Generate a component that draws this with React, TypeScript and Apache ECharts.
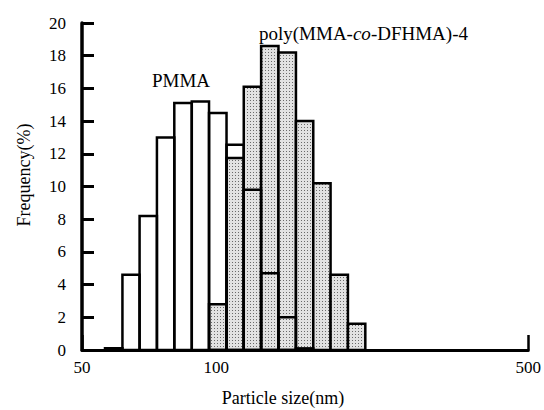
import React, { useEffect, useRef } from "react";
import * as echarts from "echarts";

// Bin edges (nm), log-spaced
const binLow = [56.3, 61.6, 67.3, 73.6, 80.5, 88.1, 96.3, 105.4, 115.2, 126.0, 137.8, 150.8, 164.9, 180.3, 197.2];
const binHigh = [61.6, 67.3, 73.6, 80.5, 88.1, 96.3, 105.4, 115.2, 126.0, 137.8, 150.8, 164.9, 180.3, 197.2, 215.7];

// Frequency (%) per bin
const pmma = [0.1, 4.6, 8.2, 13.0, 15.1, 15.2, 14.5, 12.55, 9.8, 4.7, 2.0, 0.1, 0, 0, 0];
const dfhma = [0, 0, 0, 0, 0, 0, 2.8, 11.75, 16.1, 18.6, 18.2, 14.0, 10.2, 4.6, 1.6];

const yTicks = { min: 0, max: 20, interval: 2 };
const xRange = { min: 50, max: 500 };

const FONT = "Liberation Serif";

function makeData(vals: number[]) {
  return vals
    .map((v, i) => [binLow[i], binHigh[i], v])
    .filter((d) => d[2] > 0);
}

export default function App() {
  const ref = useRef<HTMLDivElement>(null);
  useEffect(() => {
    if (!ref.current) return;
    const chart = echarts.init(ref.current, null, { renderer: "svg" });

    const cv = document.createElement("canvas");
    cv.width = 3;
    cv.height = 3;
    const ctx = cv.getContext("2d")!;
    ctx.fillStyle = "#e2e2e2";
    ctx.fillRect(0, 0, 3, 3);
    ctx.fillStyle = "#6a6a6a";
    ctx.fillRect(1, 1, 1, 1);
    const dotted: any = { image: cv, repeat: "repeat" };

    const render = (fill: any) => (params: any, api: any) => {
      const lo = api.value(0);
      const hi = api.value(1);
      const v = api.value(2);
      const p1 = api.coord([lo, v]);
      const p2 = api.coord([hi, 0]);
      return {
        type: "rect",
        shape: { x: p1[0], y: p1[1], width: p2[0] - p1[0], height: p2[1] - p1[1] },
        style: { fill, stroke: "#000", lineWidth: 2.5 },
      };
    };

    const txt = (text: string, x: number, y: number, size: number, extra: any = {}) => ({
      type: "text",
      x,
      y,
      ...extra,
      style: {
        text,
        fontFamily: FONT,
        fontSize: size,
        fill: "#000",
        align: "center",
        verticalAlign: "middle",
        ...(extra.style || {}),
      },
    });

    chart.setOption({
      animation: false,
      backgroundColor: "#fff",
      textStyle: { fontFamily: FONT },
      grid: { left: 82, right: 15, top: 23, bottom: 60 },
      xAxis: {
        type: "log",
        logBase: 10,
        min: xRange.min,
        max: xRange.max,
        axisLine: { lineStyle: { color: "#000", width: 3 } },
        axisTick: { show: true, inside: true, length: 15, lineStyle: { color: "#000", width: 2.5 } },
        minorTick: { show: false },
        splitLine: { show: false },
        axisLabel: {
          color: "#000",
          fontFamily: FONT,
          fontSize: 17,
          margin: 9,
          formatter: (v: number) => String(Math.round(v)),
        },
      },
      yAxis: {
        type: "value",
        min: yTicks.min,
        max: yTicks.max,
        interval: yTicks.interval,
        axisLine: { show: true, lineStyle: { color: "#000", width: 3.5 } },
        axisTick: { show: true, inside: true, length: 12, lineStyle: { color: "#000", width: 3 } },
        splitLine: { show: false },
        axisLabel: { color: "#000", fontFamily: FONT, fontSize: 17, margin: 16 },
      },
      graphic: [
        txt("Particle size(nm)", 283, 398, 18),
        txt("Frequency(%)", 24, 175, 18, { rotation: Math.PI / 2 }),
        txt("PMMA", 181, 80, 19),
        {
          type: "text",
          x: 259,
          y: 33,
          style: {
            text: "poly(MMA-{i|co}-DFHMA)-4",
            fontFamily: FONT,
            fontSize: 19,
            fill: "#000",
            align: "left",
            verticalAlign: "middle",
            rich: {
              i: { fontStyle: "italic", fontFamily: FONT, fontSize: 19, fill: "#000" },
            },
          },
        },
      ],
      series: [
        {
          type: "custom",
          name: "poly(MMA-co-DFHMA)-4",
          renderItem: render(dotted),
          encode: { x: [0, 1], y: 2 },
          data: makeData(dfhma),
          z: 2,
        },
        {
          type: "custom",
          name: "PMMA",
          renderItem: render("rgba(0,0,0,0)"),
          encode: { x: [0, 1], y: 2 },
          data: makeData(pmma),
          z: 3,
        },
      ],
    });
    return () => chart.dispose();
  }, []);
  return (
    <div
      ref={ref}
      style={{ position: "fixed", left: 0, top: 0, width: 544, height: 410 }}
    />
  );
}
